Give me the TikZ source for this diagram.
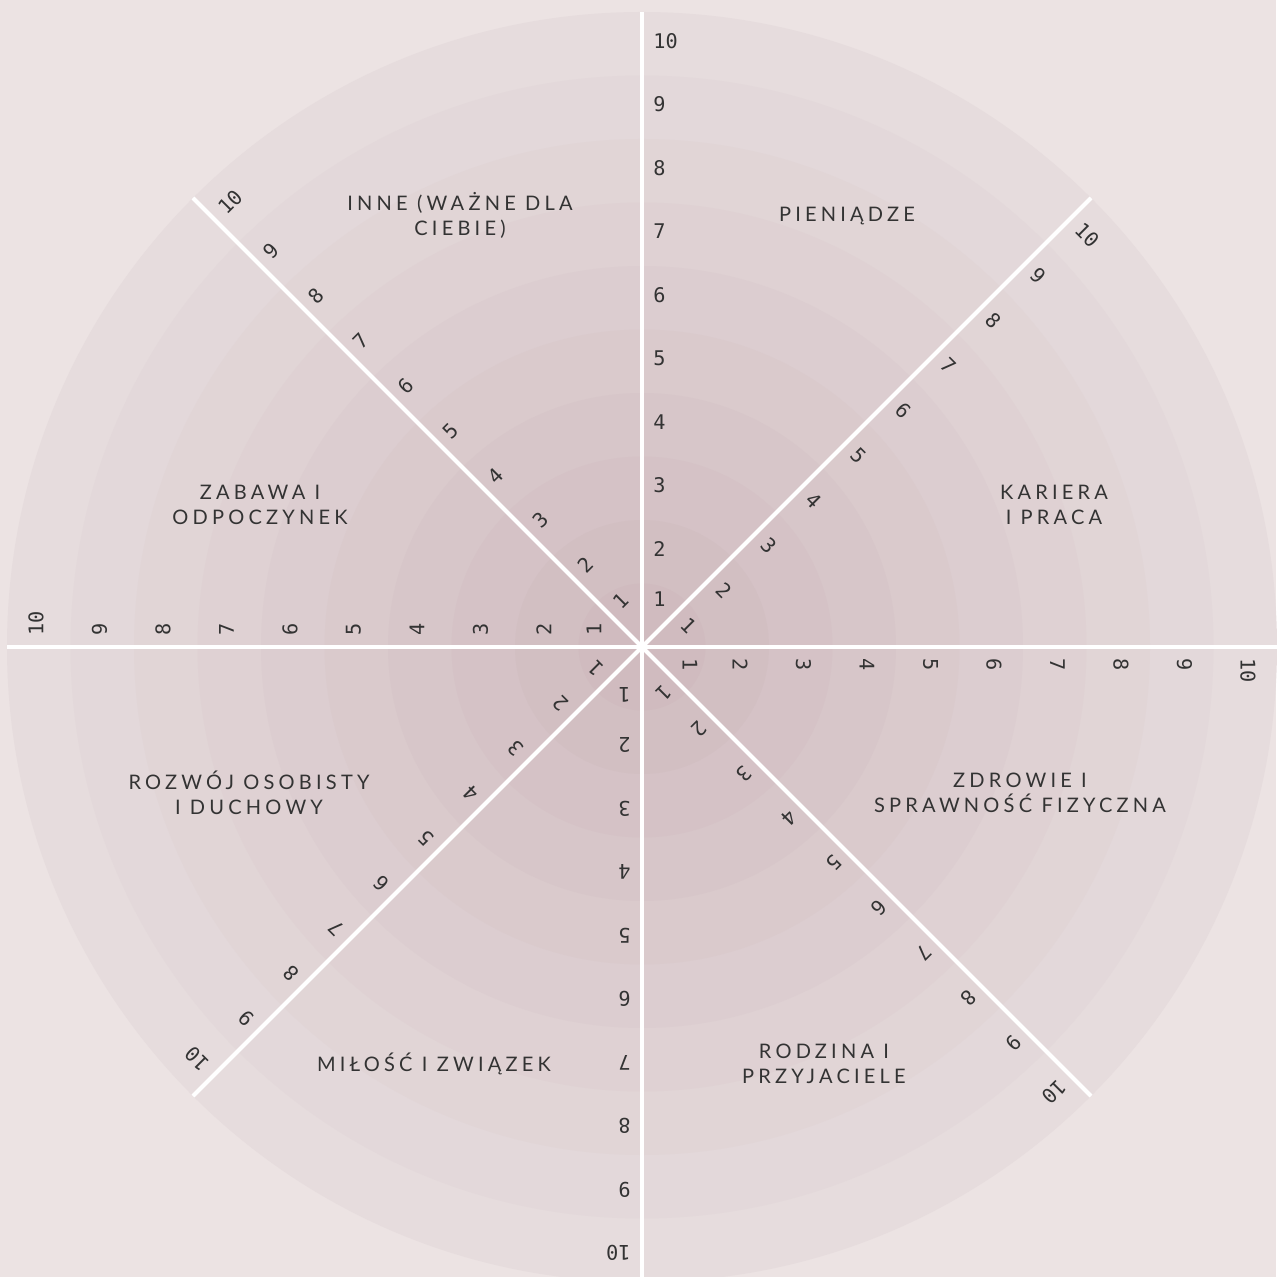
\documentclass[tikz,border=0pt]{standalone}
\usepackage{fontspec}
\setmainfont{Lato}
\newfontfamily\numfont{DejaVu Sans Mono}
\newfontfamily\labfont[LetterSpace=21]{Lato}
\usepackage{xcolor}
\definecolor{wlbg}{RGB}{236,227,227}
\definecolor{wlouter}{RGB}{230,220,221}
\definecolor{wlinner}{RGB}{208,187,191}
\definecolor{wltext}{RGB}{51,51,51}
\usetikzlibrary{positioning,calc}

\begin{document}
\begin{tikzpicture}[x=0.02cm,y=0.02cm,
  spoke/.style={draw=white,line width=0.08cm},
  num/.style={font=\numfont\fontsize{11.5}{12}\selectfont,text=wltext,anchor=west,inner sep=0pt},
  lab/.style={font=\labfont\fontsize{11.4}{14.2}\selectfont,text=wltext,align=center,inner sep=0pt}]
  \useasboundingbox (-642,-630) rectangle (634,647);
  \fill[wlbg] (-642,-630) rectangle (634,647);
  % Rings, outermost first
  \foreach \k in {10,...,1}{
    \pgfmathsetmacro{\mix}{(\k-1)/9*100}
    \fill[wlouter!\mix!wlinner] (0,0) circle ({63.5*\k});
  }
  % Spokes
  \foreach \a in {0,45,...,315}
    \draw[spoke] (0,0) -- (\a:635);
  % Scale numbers along each spoke
  \foreach \a in {0,45,...,315}{
    \foreach \k in {1,...,10}{
      \pgfmathsetmacro{\r}{\k==1 ? 48 : 63.5*\k-29}
      \node[num,rotate=\a-90] (n-\a-\k) at ($(\a:\r)+(\a-90:11)$) {\k};
    }
  }
  % Areas
  \node[lab] (lab-inne) at (-182,432) {INNE (WAŻNE DLA\\CIEBIE)};
  \node[lab] (lab-pieniadze) at (205,431) {PIENIĄDZE};
  \node[lab] (lab-kariera) at (412,142) {KARIERA\\I PRACA};
  \node[lab] (lab-zdrowie) at (378,-146) {ZDROWIE I\\SPRAWNOŚĆ FIZYCZNA};
  \node[lab] (lab-rodzina) at (182,-417) {RODZINA I\\PRZYJACIELE};
  \node[lab] (lab-milosc) at (-208,-417) {MIŁOŚĆ I ZWIĄZEK};
  \node[lab] (lab-rozwoj) at (-393,-146) {ROZWÓJ OSOBISTY\\I DUCHOWY};
  \node[lab] (lab-zabawa) at (-382,142) {ZABAWA I\\ODPOCZYNEK};
\end{tikzpicture}
\end{document}
